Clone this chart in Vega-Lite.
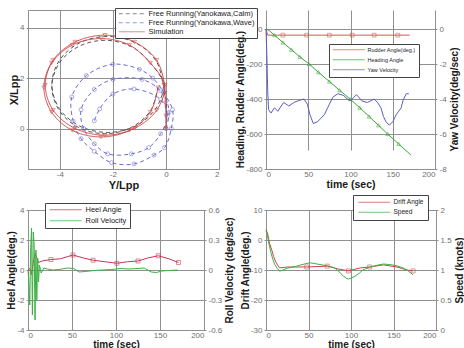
{
"$schema": "https://vega.github.io/schema/vega-lite/v6.json",
"background": "white",
"padding": {"left": 6, "top": 7, "right": 2, "bottom": 1},
"columns": 2,
"bounds": "flush",
"spacing": {"row": 41, "column": 47},
"resolve": {"scale": {"color": "independent", "strokeDash": "independent", "shape": "independent"}, "legend": {"color": "independent", "strokeDash": "independent", "shape": "independent"}},
"datasets": {
"traj": [
{"series":"Free Running(Yanokawa,Calm)","i":0,"Y":0,"X":0},
{"series":"Free Running(Yanokawa,Calm)","i":1,"Y":0.02,"X":0.6},
{"series":"Free Running(Yanokawa,Calm)","i":2,"Y":0,"X":1.2},
{"series":"Free Running(Yanokawa,Calm)","i":3,"Y":-0.1,"X":1.75},
{"series":"Free Running(Yanokawa,Calm)","i":4,"Y":-0.38,"X":2.7},
{"series":"Free Running(Yanokawa,Calm)","i":5,"Y":-1.15,"X":3.4},
{"series":"Free Running(Yanokawa,Calm)","i":6,"Y":-2.2,"X":3.65},
{"series":"Free Running(Yanokawa,Calm)","i":7,"Y":-3.25,"X":3.4},
{"series":"Free Running(Yanokawa,Calm)","i":8,"Y":-4.02,"X":2.7},
{"series":"Free Running(Yanokawa,Calm)","i":9,"Y":-4.3,"X":1.75},
{"series":"Free Running(Yanokawa,Calm)","i":10,"Y":-4.02,"X":0.8},
{"series":"Free Running(Yanokawa,Calm)","i":11,"Y":-3.25,"X":0.1},
{"series":"Free Running(Yanokawa,Calm)","i":12,"Y":-2.2,"X":-0.15},
{"series":"Free Running(Yanokawa,Calm)","i":13,"Y":-1.15,"X":0.1},
{"series":"Free Running(Yanokawa,Calm)","i":14,"Y":-0.38,"X":0.8},
{"series":"Free Running(Yanokawa,Calm)","i":15,"Y":-0.1,"X":1.75},
{"series":"Free Running(Yanokawa,Calm)","i":16,"Y":-0.57,"X":2.58},
{"series":"Free Running(Yanokawa,Calm)","i":17,"Y":-1.3,"X":3.25},
{"series":"Free Running(Yanokawa,Calm)","i":18,"Y":-2.3,"X":3.5},
{"series":"Free Running(Yanokawa,Calm)","i":19,"Y":-3.3,"X":3.25},
{"series":"Free Running(Yanokawa,Calm)","i":20,"Y":-4.03,"X":2.58},
{"series":"Free Running(Yanokawa,Calm)","i":21,"Y":-4.3,"X":1.65},
{"series":"Free Running(Yanokawa,Calm)","i":22,"Y":-4.03,"X":0.73},
{"series":"Free Running(Yanokawa,Calm)","i":23,"Y":-3.3,"X":0.05},
{"series":"Free Running(Yanokawa,Calm)","i":24,"Y":-2.3,"X":-0.2},
{"series":"Free Running(Yanokawa,Calm)","i":25,"Y":-1.3,"X":0.05},
{"series":"Free Running(Yanokawa,Calm)","i":26,"Y":-0.57,"X":0.73},
{"series":"Free Running(Yanokawa,Calm)","i":27,"Y":-0.3,"X":1.65},
{"series":"Free Running(Yanokawa,Wave)","i":0,"Y":0,"X":0},
{"series":"Free Running(Yanokawa,Wave)","i":1,"Y":0.12,"X":0.65},
{"series":"Free Running(Yanokawa,Wave)","i":2,"Y":-0.1,"X":1.45},
{"series":"Free Running(Yanokawa,Wave)","i":3,"Y":-0.5,"X":2.0},
{"series":"Free Running(Yanokawa,Wave)","i":4,"Y":-1.0,"X":2.35},
{"series":"Free Running(Yanokawa,Wave)","i":5,"Y":-2.0,"X":2.55},
{"series":"Free Running(Yanokawa,Wave)","i":6,"Y":-3.0,"X":2.1},
{"series":"Free Running(Yanokawa,Wave)","i":7,"Y":-3.55,"X":1.25},
{"series":"Free Running(Yanokawa,Wave)","i":8,"Y":-3.5,"X":0.3},
{"series":"Free Running(Yanokawa,Wave)","i":9,"Y":-3.2,"X":-0.4},
{"series":"Free Running(Yanokawa,Wave)","i":10,"Y":-2.7,"X":-0.9},
{"series":"Free Running(Yanokawa,Wave)","i":11,"Y":-2.05,"X":-1.35},
{"series":"Free Running(Yanokawa,Wave)","i":12,"Y":-1.2,"X":-1.4},
{"series":"Free Running(Yanokawa,Wave)","i":13,"Y":-0.45,"X":-1.05},
{"series":"Free Running(Yanokawa,Wave)","i":14,"Y":-0.05,"X":-0.75},
{"series":"Free Running(Yanokawa,Wave)","i":15,"Y":0.2,"X":0.0},
{"series":"Free Running(Yanokawa,Wave)","i":16,"Y":0.25,"X":0.75},
{"series":"Free Running(Yanokawa,Wave)","i":17,"Y":-0.2,"X":1.5},
{"series":"Free Running(Yanokawa,Wave)","i":18,"Y":-0.9,"X":1.95},
{"series":"Free Running(Yanokawa,Wave)","i":19,"Y":-2.0,"X":1.95},
{"series":"Free Running(Yanokawa,Wave)","i":20,"Y":-2.7,"X":1.55},
{"series":"Free Running(Yanokawa,Wave)","i":21,"Y":-3.2,"X":0.75},
{"series":"Free Running(Yanokawa,Wave)","i":22,"Y":-3.1,"X":0.0},
{"series":"Free Running(Yanokawa,Wave)","i":23,"Y":-2.7,"X":-0.6},
{"series":"Free Running(Yanokawa,Wave)","i":24,"Y":-2.2,"X":-1.0},
{"series":"Free Running(Yanokawa,Wave)","i":25,"Y":-1.3,"X":-1.0},
{"series":"Free Running(Yanokawa,Wave)","i":26,"Y":-0.65,"X":-0.75},
{"series":"Free Running(Yanokawa,Wave)","i":27,"Y":-0.2,"X":-0.2},
{"series":"Free Running(Yanokawa,Wave)","i":28,"Y":0.05,"X":0.5},
{"series":"Free Running(Yanokawa,Wave)","i":29,"Y":-0.2,"X":1.15},
{"series":"Free Running(Yanokawa,Wave)","i":30,"Y":-1.2,"X":1.57},
{"series":"Free Running(Yanokawa,Wave)","i":31,"Y":-2.0,"X":1.37},
{"series":"Free Running(Yanokawa,Wave)","i":32,"Y":-2.5,"X":0.78},
{"series":"Free Running(Yanokawa,Wave)","i":33,"Y":-2.7,"X":0.31},
{"series":"Simulation","i":0,"Y":0,"X":0},
{"series":"Simulation","i":1,"Y":0,"X":0.5},
{"series":"Simulation","i":2,"Y":-0.02,"X":1.0},
{"series":"Simulation","i":3,"Y":-0.04,"X":1.4},
{"series":"Simulation","i":4,"Y":-0.05,"X":1.72},
{"series":"Simulation","i":5,"Y":-0.35,"X":2.71},
{"series":"Simulation","i":6,"Y":-1.18,"X":3.43},
{"series":"Simulation","i":7,"Y":-2.3,"X":3.7},
{"series":"Simulation","i":8,"Y":-3.43,"X":3.43},
{"series":"Simulation","i":9,"Y":-4.25,"X":2.71},
{"series":"Simulation","i":10,"Y":-4.55,"X":1.72},
{"series":"Simulation","i":11,"Y":-4.25,"X":0.73},
{"series":"Simulation","i":12,"Y":-3.43,"X":0.01},
{"series":"Simulation","i":13,"Y":-2.3,"X":-0.26},
{"series":"Simulation","i":14,"Y":-1.18,"X":0.01},
{"series":"Simulation","i":15,"Y":-0.35,"X":0.73},
{"series":"Simulation","i":16,"Y":-0.05,"X":1.72},
{"series":"Simulation","i":17,"Y":-0.59,"X":2.6},
{"series":"Simulation","i":18,"Y":-1.38,"X":3.31},
{"series":"Simulation","i":19,"Y":-2.45,"X":3.57},
{"series":"Simulation","i":20,"Y":-3.53,"X":3.31},
{"series":"Simulation","i":21,"Y":-4.31,"X":2.6},
{"series":"Simulation","i":22,"Y":-4.6,"X":1.62},
{"series":"Simulation","i":23,"Y":-4.31,"X":0.65},
{"series":"Simulation","i":24,"Y":-3.53,"X":-0.07},
{"series":"Simulation","i":25,"Y":-2.45,"X":-0.33},
{"series":"Simulation","i":26,"Y":-1.38,"X":-0.07},
{"series":"Simulation","i":27,"Y":-0.59,"X":0.65},
{"series":"Simulation","i":28,"Y":-0.3,"X":1.62}
],
"tr": [
{"series":"Rudder Angle(deg.)","t":0,"v":0},
{"series":"Rudder Angle(deg.)","t":2,"v":-35},
{"series":"Rudder Angle(deg.)","t":20,"v":-35},
{"series":"Rudder Angle(deg.)","t":48,"v":-35},
{"series":"Rudder Angle(deg.)","t":75,"v":-35},
{"series":"Rudder Angle(deg.)","t":102,"v":-35},
{"series":"Rudder Angle(deg.)","t":128,"v":-35},
{"series":"Rudder Angle(deg.)","t":156,"v":-35},
{"series":"Rudder Angle(deg.)","t":170,"v":-35},
{"series":"Heading Angle","t":0,"v":0},
{"series":"Heading Angle","t":4,"v":-10},
{"series":"Heading Angle","t":10,"v":-35},
{"series":"Heading Angle","t":20,"v":-77},
{"series":"Heading Angle","t":30,"v":-118},
{"series":"Heading Angle","t":40,"v":-159},
{"series":"Heading Angle","t":51,"v":-200},
{"series":"Heading Angle","t":62,"v":-247},
{"series":"Heading Angle","t":75,"v":-300},
{"series":"Heading Angle","t":87,"v":-350},
{"series":"Heading Angle","t":99.5,"v":-400},
{"series":"Heading Angle","t":111,"v":-450},
{"series":"Heading Angle","t":122,"v":-500},
{"series":"Heading Angle","t":133,"v":-550},
{"series":"Heading Angle","t":144,"v":-600},
{"series":"Heading Angle","t":157,"v":-657},
{"series":"Heading Angle","t":171.5,"v":-720},
{"series":"Yaw Velocity","t":0,"v":0},
{"series":"Yaw Velocity","t":1,"v":-1.5},
{"series":"Yaw Velocity","t":2,"v":-3.5},
{"series":"Yaw Velocity","t":3,"v":-4.6},
{"series":"Yaw Velocity","t":6,"v":-4.8},
{"series":"Yaw Velocity","t":10,"v":-4.5},
{"series":"Yaw Velocity","t":14,"v":-4.7},
{"series":"Yaw Velocity","t":18,"v":-4.4},
{"series":"Yaw Velocity","t":21,"v":-4.2},
{"series":"Yaw Velocity","t":27,"v":-4.4},
{"series":"Yaw Velocity","t":33,"v":-4.2},
{"series":"Yaw Velocity","t":38,"v":-4.1},
{"series":"Yaw Velocity","t":45,"v":-4.0},
{"series":"Yaw Velocity","t":49,"v":-4.3},
{"series":"Yaw Velocity","t":52,"v":-4.9},
{"series":"Yaw Velocity","t":56,"v":-5.4},
{"series":"Yaw Velocity","t":61,"v":-5.3},
{"series":"Yaw Velocity","t":65,"v":-5.1},
{"series":"Yaw Velocity","t":69,"v":-4.9},
{"series":"Yaw Velocity","t":73,"v":-4.5},
{"series":"Yaw Velocity","t":79,"v":-3.9},
{"series":"Yaw Velocity","t":85,"v":-3.7},
{"series":"Yaw Velocity","t":92,"v":-3.8},
{"series":"Yaw Velocity","t":96,"v":-4.0},
{"series":"Yaw Velocity","t":100,"v":-4.1},
{"series":"Yaw Velocity","t":104,"v":-3.9},
{"series":"Yaw Velocity","t":107,"v":-3.75},
{"series":"Yaw Velocity","t":110,"v":-3.9},
{"series":"Yaw Velocity","t":113,"v":-4.1},
{"series":"Yaw Velocity","t":120,"v":-4.2},
{"series":"Yaw Velocity","t":124,"v":-4.1},
{"series":"Yaw Velocity","t":128,"v":-4.0},
{"series":"Yaw Velocity","t":132,"v":-4.2},
{"series":"Yaw Velocity","t":136,"v":-4.5},
{"series":"Yaw Velocity","t":139,"v":-5.0},
{"series":"Yaw Velocity","t":142,"v":-5.3},
{"series":"Yaw Velocity","t":146,"v":-5.5},
{"series":"Yaw Velocity","t":150,"v":-5.3},
{"series":"Yaw Velocity","t":154,"v":-4.9},
{"series":"Yaw Velocity","t":157,"v":-4.7},
{"series":"Yaw Velocity","t":160,"v":-4.5},
{"series":"Yaw Velocity","t":162,"v":-4.1},
{"series":"Yaw Velocity","t":166,"v":-3.7},
{"series":"Yaw Velocity","t":169,"v":-3.7}
],
"bl": [
{"series":"Heel Angle","t":0,"v":0},
{"series":"Heel Angle","t":2,"v":0.1},
{"series":"Heel Angle","t":4,"v":-0.3},
{"series":"Heel Angle","t":6,"v":0.5},
{"series":"Heel Angle","t":8,"v":1.1},
{"series":"Heel Angle","t":10,"v":0.8},
{"series":"Heel Angle","t":12,"v":0.5},
{"series":"Heel Angle","t":16,"v":0.6},
{"series":"Heel Angle","t":26,"v":0.7},
{"series":"Heel Angle","t":37,"v":0.75},
{"series":"Heel Angle","t":51,"v":1.0},
{"series":"Heel Angle","t":63,"v":0.8},
{"series":"Heel Angle","t":74,"v":0.65},
{"series":"Heel Angle","t":88,"v":0.55},
{"series":"Heel Angle","t":101,"v":0.45},
{"series":"Heel Angle","t":113,"v":0.55},
{"series":"Heel Angle","t":125,"v":0.6},
{"series":"Heel Angle","t":136,"v":0.8},
{"series":"Heel Angle","t":148,"v":0.95},
{"series":"Heel Angle","t":160,"v":0.75},
{"series":"Heel Angle","t":171,"v":0.5},
{"series":"Roll Velocity","t":0,"v":0},
{"series":"Roll Velocity","t":1,"v":-0.12},
{"series":"Roll Velocity","t":2,"v":-0.35},
{"series":"Roll Velocity","t":3,"v":0.2},
{"series":"Roll Velocity","t":4,"v":0.42},
{"series":"Roll Velocity","t":5,"v":-0.45},
{"series":"Roll Velocity","t":6,"v":0.38},
{"series":"Roll Velocity","t":7,"v":0.25},
{"series":"Roll Velocity","t":8,"v":-0.5},
{"series":"Roll Velocity","t":9,"v":0.2},
{"series":"Roll Velocity","t":10,"v":-0.3},
{"series":"Roll Velocity","t":11,"v":0.12},
{"series":"Roll Velocity","t":12,"v":-0.12},
{"series":"Roll Velocity","t":13,"v":0.05},
{"series":"Roll Velocity","t":15,"v":-0.03},
{"series":"Roll Velocity","t":18,"v":0.02},
{"series":"Roll Velocity","t":22,"v":0.01},
{"series":"Roll Velocity","t":28,"v":0.0},
{"series":"Roll Velocity","t":35,"v":0.005},
{"series":"Roll Velocity","t":45,"v":0.02},
{"series":"Roll Velocity","t":52,"v":0.015},
{"series":"Roll Velocity","t":58,"v":-0.02},
{"series":"Roll Velocity","t":65,"v":-0.015},
{"series":"Roll Velocity","t":75,"v":-0.005},
{"series":"Roll Velocity","t":85,"v":0},
{"series":"Roll Velocity","t":95,"v":0.005},
{"series":"Roll Velocity","t":105,"v":0.015},
{"series":"Roll Velocity","t":115,"v":0.01},
{"series":"Roll Velocity","t":125,"v":0.015},
{"series":"Roll Velocity","t":132,"v":0.02},
{"series":"Roll Velocity","t":140,"v":-0.02},
{"series":"Roll Velocity","t":146,"v":-0.025},
{"series":"Roll Velocity","t":152,"v":-0.01},
{"series":"Roll Velocity","t":160,"v":-0.005},
{"series":"Roll Velocity","t":170,"v":0}
],
"br": [
{"series":"Drift Angle","t":0,"v":3.5},
{"series":"Drift Angle","t":2,"v":2},
{"series":"Drift Angle","t":4,"v":-1},
{"series":"Drift Angle","t":7,"v":-3.5},
{"series":"Drift Angle","t":9,"v":-5.5},
{"series":"Drift Angle","t":11,"v":-7},
{"series":"Drift Angle","t":14,"v":-8.5},
{"series":"Drift Angle","t":16,"v":-9.3},
{"series":"Drift Angle","t":25,"v":-9},
{"series":"Drift Angle","t":48,"v":-9},
{"series":"Drift Angle","t":72,"v":-8.7},
{"series":"Drift Angle","t":84,"v":-9.6},
{"series":"Drift Angle","t":97,"v":-10.3},
{"series":"Drift Angle","t":111,"v":-9.3},
{"series":"Drift Angle","t":122,"v":-9},
{"series":"Drift Angle","t":138,"v":-8.3},
{"series":"Drift Angle","t":154,"v":-9},
{"series":"Drift Angle","t":166,"v":-10},
{"series":"Drift Angle","t":173,"v":-10.3},
{"series":"Speed","t":0,"v":1.65},
{"series":"Speed","t":2,"v":1.55},
{"series":"Speed","t":4,"v":1.4},
{"series":"Speed","t":6,"v":1.28},
{"series":"Speed","t":8,"v":1.18},
{"series":"Speed","t":10,"v":1.1},
{"series":"Speed","t":13,"v":1.03},
{"series":"Speed","t":16,"v":0.98},
{"series":"Speed","t":20,"v":1.0},
{"series":"Speed","t":25,"v":1.03},
{"series":"Speed","t":35,"v":1.06},
{"series":"Speed","t":45,"v":1.1},
{"series":"Speed","t":52,"v":1.12},
{"series":"Speed","t":60,"v":1.1},
{"series":"Speed","t":72,"v":1.07},
{"series":"Speed","t":80,"v":1.04},
{"series":"Speed","t":84,"v":1.0},
{"series":"Speed","t":88,"v":0.94},
{"series":"Speed","t":91,"v":0.9},
{"series":"Speed","t":95,"v":0.86},
{"series":"Speed","t":97,"v":0.85},
{"series":"Speed","t":101,"v":0.87},
{"series":"Speed","t":105,"v":0.9},
{"series":"Speed","t":110,"v":0.95},
{"series":"Speed","t":114,"v":1.0},
{"series":"Speed","t":122,"v":1.05},
{"series":"Speed","t":131,"v":1.08},
{"series":"Speed","t":138,"v":1.1},
{"series":"Speed","t":146,"v":1.09},
{"series":"Speed","t":154,"v":1.07},
{"series":"Speed","t":160,"v":1.04},
{"series":"Speed","t":166,"v":1.0},
{"series":"Speed","t":173,"v":0.92}
]
},
"concat": [
{
"width": 191, "height": 159,
"data": {"name": "traj"},
"encoding": {
"x": {"field": "Y", "type": "quantitative", "scale": {"domain": [-5.2, 2], "nice": false, "zero": false}, "axis": {"values": [-4, -2, 0, 2], "title": "Y/Lpp", "titleFontSize": 11, "titlePadding": 1, "labelExpr": "'' + datum.value"}},
"y": {"field": "X", "type": "quantitative", "scale": {"domain": [-1.6, 4.7], "nice": false, "zero": false}, "axis": {"values": [0, 2, 4], "title": "X/Lpp", "titleFontSize": 11, "labelExpr": "'' + datum.value"}},
"color": {"field": "series", "type": "nominal", "scale": {"domain": ["Free Running(Yanokawa,Calm)", "Free Running(Yanokawa,Wave)", "Simulation"], "range": ["#555555", "#6b6bd6", "#d04848"]}, "legend": {"legendX": 87, "legendY": -2, "labelFontSize": 7.5, "symbolType": "M-1,0H12", "labelOffset": 24, "padding": 2, "rowPadding": 0}}
},
"layer": [
{"mark": {"type": "line", "strokeWidth": 1, "interpolate": "catmull-rom"},
 "encoding": {"order": {"field": "i", "type": "quantitative"},
  "strokeDash": {"field": "series", "type": "nominal", "scale": {"domain": ["Free Running(Yanokawa,Calm)", "Free Running(Yanokawa,Wave)", "Simulation"], "range": [[4, 3], [4, 3], [1, 0]]}, "legend": {"legendX": 87, "legendY": -2, "labelFontSize": 7.5, "symbolType": "M-1,0H12", "labelOffset": 24, "padding": 2, "rowPadding": 0}}}},
{"transform": [{"filter": "datum.series !== 'Free Running(Yanokawa,Calm)'"}],
 "mark": {"type": "point", "filled": false, "size": 16, "strokeWidth": 0.8},
 "encoding": {"shape": {"field": "series", "type": "nominal", "scale": {"domain": ["Free Running(Yanokawa,Wave)", "Simulation"], "range": ["circle", "triangle-down"]}, "legend": null}}}
]
},
{
"width": 169, "height": 159,
"view": {"stroke": null},
"data": {"name": "tr"},
"encoding": {
"x": {"field": "t", "type": "quantitative", "scale": {"domain": [0, 200], "nice": false}, "axis": {"values": [0, 50, 100, 150, 200], "title": "time (sec)", "titleFontSize": 10.5, "titlePadding": 1, "labelExpr": "'' + datum.value"}}
},
"layer": [
{"transform": [{"filter": "datum.series !== 'Yaw Velocity'"}],
 "encoding": {
  "y": {"field": "v", "type": "quantitative", "scale": {"domain": [-800, 0], "range": [159, 19], "nice": false, "zero": false}, "axis": {"values": [0, -200, -400, -600, -800], "title": "Heading, Rudder Angle(deg.)", "labelExpr": "'' + datum.value"}},
  "color": {"field": "series", "type": "nominal", "scale": {"domain": ["Rudder Angle(deg.)", "Heading Angle", "Yaw Velocity"], "range": ["#d9534f", "#3aa53a", "#5b5bc8"]}, "legend": {"legendX": 63, "legendY": 34, "labelFontSize": 5.5, "rowPadding": 3}}
 },
 "layer": [
  {"mark": {"type": "line", "strokeWidth": 1}},
  {"transform": [{"filter": "datum.t >= 10 && datum.t < 170"}],
   "mark": {"type": "point", "filled": false, "size": 14, "strokeWidth": 0.8},
   "encoding": {"shape": {"field": "series", "type": "nominal", "scale": {"domain": ["Rudder Angle(deg.)", "Heading Angle"], "range": ["square", "triangle-up"]}, "legend": null}}}
 ]},
{"transform": [{"filter": "datum.series === 'Yaw Velocity'"}],
 "mark": {"type": "line", "strokeWidth": 1},
 "encoding": {
  "y": {"field": "v", "type": "quantitative", "scale": {"domain": [-8, 0], "range": [159, 19], "nice": false, "zero": false}, "axis": {"orient": "right", "values": [0, -2, -4, -6, -8], "title": "Yaw Velocity(deg/sec)", "grid": false, "titleAngle": 270, "titleBaseline": "top", "titlePadding": 3, "labelExpr": "'' + datum.value"}},
  "color": {"field": "series", "type": "nominal", "scale": {"domain": ["Rudder Angle(deg.)", "Heading Angle", "Yaw Velocity"], "range": ["#d9534f", "#3aa53a", "#5b5bc8"]}, "legend": {"legendX": 63, "legendY": 34, "labelFontSize": 5.5, "rowPadding": 3}}
 }}
],
"resolve": {"scale": {"y": "independent"}}
},
{
"width": 176, "height": 120,
"data": {"name": "bl"},
"encoding": {
"x": {"field": "t", "type": "quantitative", "scale": {"domain": [0, 200], "nice": false}, "axis": {"values": [0, 50, 100, 150, 200], "title": "time (sec)", "labelExpr": "'' + datum.value"}}
},
"layer": [
{"transform": [{"filter": "datum.series === 'Heel Angle'"}],
 "encoding": {
  "y": {"field": "v", "type": "quantitative", "scale": {"domain": [-4, 4], "nice": false}, "axis": {"values": [-4, -2, 0, 2, 4], "title": "Heel Angle(deg.)", "labelExpr": "'' + datum.value"}},
  "color": {"field": "series", "type": "nominal", "scale": {"domain": ["Heel Angle", "Roll Velocity"], "range": ["#cc3355", "#3cb043"]}, "legend": {"legendX": 17, "legendY": -7, "labelFontSize": 7.5, "rowPadding": 2}}
 },
 "layer": [
  {"mark": {"type": "line", "strokeWidth": 1}},
  {"transform": [{"filter": "indexof([26, 51, 74, 101, 125, 148, 171], datum.t) >= 0"}],
   "mark": {"type": "point", "shape": "square", "filled": false, "size": 16, "strokeWidth": 0.8}}
 ]},
{"transform": [{"filter": "datum.series === 'Roll Velocity'"}],
 "mark": {"type": "line", "strokeWidth": 1},
 "encoding": {
  "y": {"field": "v", "type": "quantitative", "scale": {"domain": [-0.6, 0.6], "nice": false}, "axis": {"orient": "right", "values": [-0.6, -0.3, 0, 0.3, 0.6], "title": "Roll Velocity (deg/sec)", "grid": false, "titleAngle": 270, "titleBaseline": "top", "titlePadding": 3, "labelExpr": "'' + datum.value"}},
  "color": {"field": "series", "type": "nominal", "scale": {"domain": ["Heel Angle", "Roll Velocity"], "range": ["#cc3355", "#3cb043"]}, "legend": {"legendX": 17, "legendY": -7, "labelFontSize": 7.5, "rowPadding": 2}}
 }}
],
"resolve": {"scale": {"y": "independent"}}
},
{
"width": 170, "height": 120,
"data": {"name": "br"},
"encoding": {
"x": {"field": "t", "type": "quantitative", "scale": {"domain": [0, 200], "nice": false}, "axis": {"values": [0, 50, 100, 150, 200], "title": "time (sec)", "labelExpr": "'' + datum.value"}}
},
"layer": [
{"transform": [{"filter": "datum.series === 'Drift Angle'"}],
 "encoding": {
  "y": {"field": "v", "type": "quantitative", "scale": {"domain": [-30, 10], "nice": false}, "axis": {"values": [-30, -20, -10, 0, 10], "title": "Drift Angle(deg.)", "labelExpr": "'' + datum.value"}},
  "color": {"field": "series", "type": "nominal", "scale": {"domain": ["Drift Angle", "Speed"], "range": ["#cc4444", "#3cb043"]}, "legend": {"legendX": 87, "legendY": -15, "labelFontSize": 6.5, "padding": 4, "rowPadding": 3}}
 },
 "layer": [
  {"mark": {"type": "line", "strokeWidth": 1}},
  {"transform": [{"filter": "indexof([48, 72, 97, 122, 173], datum.t) >= 0"}],
   "mark": {"type": "point", "shape": "square", "filled": false, "size": 16, "strokeWidth": 0.8}}
 ]},
{"transform": [{"filter": "datum.series === 'Speed'"}],
 "mark": {"type": "line", "strokeWidth": 1},
 "encoding": {
  "y": {"field": "v", "type": "quantitative", "scale": {"domain": [0, 2], "nice": false}, "axis": {"orient": "right", "values": [0, 0.5, 1, 1.5, 2], "title": "Speed (knots)", "grid": false, "titleAngle": 270, "titleBaseline": "top", "titlePadding": 3, "labelExpr": "'' + datum.value"}},
  "color": {"field": "series", "type": "nominal", "scale": {"domain": ["Drift Angle", "Speed"], "range": ["#cc4444", "#3cb043"]}, "legend": {"legendX": 87, "legendY": -15, "labelFontSize": 6.5, "padding": 4, "rowPadding": 3}}
 }}
],
"resolve": {"scale": {"y": "independent"}}
}
],
"config": {
"font": "Liberation Sans",
"view": {"stroke": "#909090"},
"axis": {"labelFontSize": 8, "labelColor": "#707070", "titleFontSize": 10, "titleFontWeight": "bold", "titleColor": "#1a1a1a", "gridColor": "#909090", "gridOpacity": 1, "gridWidth": 1, "domainColor": "#909090", "tickColor": "#909090"},
"axisX": {"ticks": false, "labelPadding": 1, "titlePadding": 0},
"axisY": {"tickSize": 2, "labelPadding": 2, "titlePadding": 0},
"legend": {"orient": "none", "title": null, "symbolType": "M-1,0H15", "symbolSize": 16, "symbolStrokeWidth": 1, "labelFontSize": 6, "labelOffset": 30, "padding": 3, "rowPadding": 1, "strokeColor": "#444", "fillColor": "white", "labelColor": "#222"}
}
}
